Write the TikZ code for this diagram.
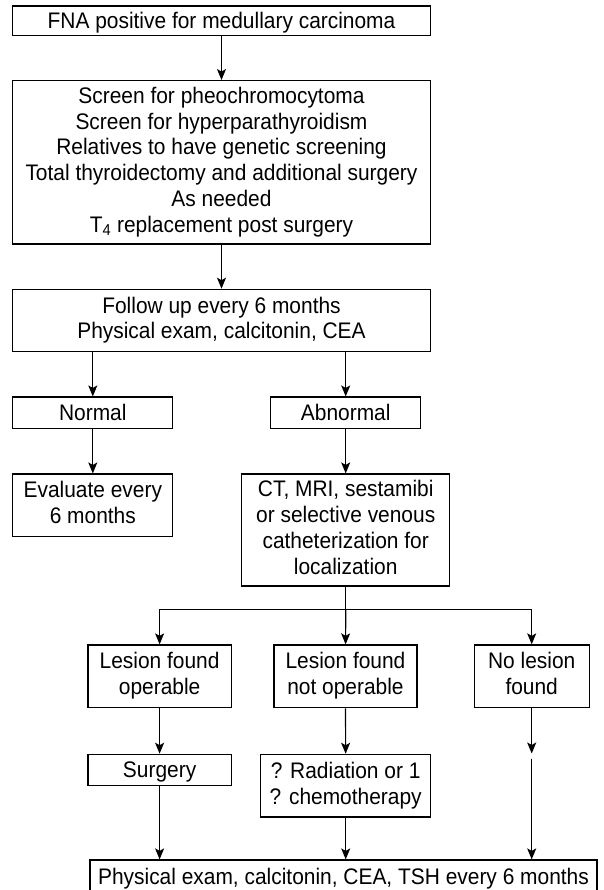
\documentclass[tikz,border=0pt]{standalone}
\usepackage{fontspec}
\setmainfont{Liberation Sans}[FakeStretch=0.93]
\usetikzlibrary{arrows.meta}
% 统一行高, 让文字在框内居中
\newcommand{\rowstrut}{\vrule width 0pt height 20.4pt depth 5.4pt}
\begin{document}
\begin{tikzpicture}[x=1pt, y=-1pt,
    box/.style={draw, line width=1.2pt, align=center, inner sep=0pt,
                font=\fontsize{22.5}{25.8}\selectfont,
                execute at begin node=\rowstrut, execute at end node=\rowstrut},
    arr/.style={-{Stealth[length=11pt,width=9pt,inset=2.5pt]}, line width=1.2pt},
    link/.style={line width=1.2pt}]
            % 画布范围
            \clip (0,0) rectangle (603,890);

            % 上部三个框
            \node[box, minimum width=417.5pt, minimum height=29.3pt] (fna) at (221.5,20.7)
                {FNA positive for medullary carcinoma};
            \node[box, minimum width=417.5pt, minimum height=163.3pt] (screen) at (221.5,162.3)
                {Screen for pheochromocytoma\\
                 Screen for hyperparathyroidism\\
                 Relatives to have genetic screening\\
                 Total thyroidectomy and additional surgery\\
                 As needed\\
                 T\textsubscript{4} replacement post surgery};
            \node[box, minimum width=417.5pt, minimum height=62.4pt] (follow) at (221.5,320.5)
                {Follow up every 6 months\\ Physical exam, calcitonin, CEA};
            \draw[arr] (fna) -- (screen);
            \draw[arr] (screen) -- (follow);

            % 正常 / 异常
            \node[box, minimum width=160pt, minimum height=31.3pt] (normal) at (92.8,412.7) {Normal};
            \node[box, minimum width=149.7pt, minimum height=31.3pt] (abnormal) at (345.7,412.7) {Abnormal};
            \node[box, minimum width=160pt, minimum height=62.3pt] (evaluate) at (92.8,505.2)
                {Evaluate every\\ 6 months};
            \node[box, minimum width=208.3pt, minimum height=112pt] (imaging) at (345.7,530)
                {CT, MRI, sestamibi\\ or selective venous\\ catheterization for\\ localization};
            \draw[arr] (follow.south -| normal) -- (normal);
            \draw[arr] (follow.south -| abnormal) -- (abnormal);
            \draw[arr] (normal) -- (evaluate);
            \draw[arr] (abnormal) -- (imaging);

            % 三个分支
            \node[box, minimum width=143.1pt, minimum height=62.7pt] (operable) at (159.6,676.3)
                {Lesion found\\ operable};
            \node[box, minimum width=143.1pt, minimum height=62.7pt] (notop) at (345.5,676.3)
                {Lesion found\\ not operable};
            \node[box, minimum width=114.9pt, minimum height=62.7pt] (nolesion) at (531.7,676.3)
                {No lesion\\ found};
            \coordinate (split) at (345.7,609.5);
            \draw[link] (imaging) -- (split);
            \draw[arr] (split) -| (operable);
            \draw[arr] (split) -- (notop);
            \draw[arr] (split) -| (nolesion);

            % 治疗
            \node[box, minimum width=143.1pt, minimum height=31.4pt] (surgery) at (159.6,770) {Surgery};
            \node[box, minimum width=169.8pt, minimum height=62.7pt] (radiation) at (345.7,785.7)
                {? Radiation or 1\\ ? chemotherapy};
            \coordinate (gapA) at (531.7,753.5);
            \coordinate (gapB) at (531.7,758.5);
            \draw[arr] (operable) -- (surgery);
            \draw[arr] (notop) -- (radiation);
            \draw[arr] (nolesion) -- (gapA);

            % 随访
            \node[box, minimum width=507pt, minimum height=34pt] (recheck) at (343.5,877)
                {Physical exam, calcitonin, CEA, TSH every 6 months};
            \draw[arr] (surgery.south) -- (surgery.south |- recheck.north);
            \draw[arr] (radiation.south) -- (radiation.south |- recheck.north);
            \draw[arr] (gapB) -- (gapB |- recheck.north);
        \end{tikzpicture}
\end{document}
